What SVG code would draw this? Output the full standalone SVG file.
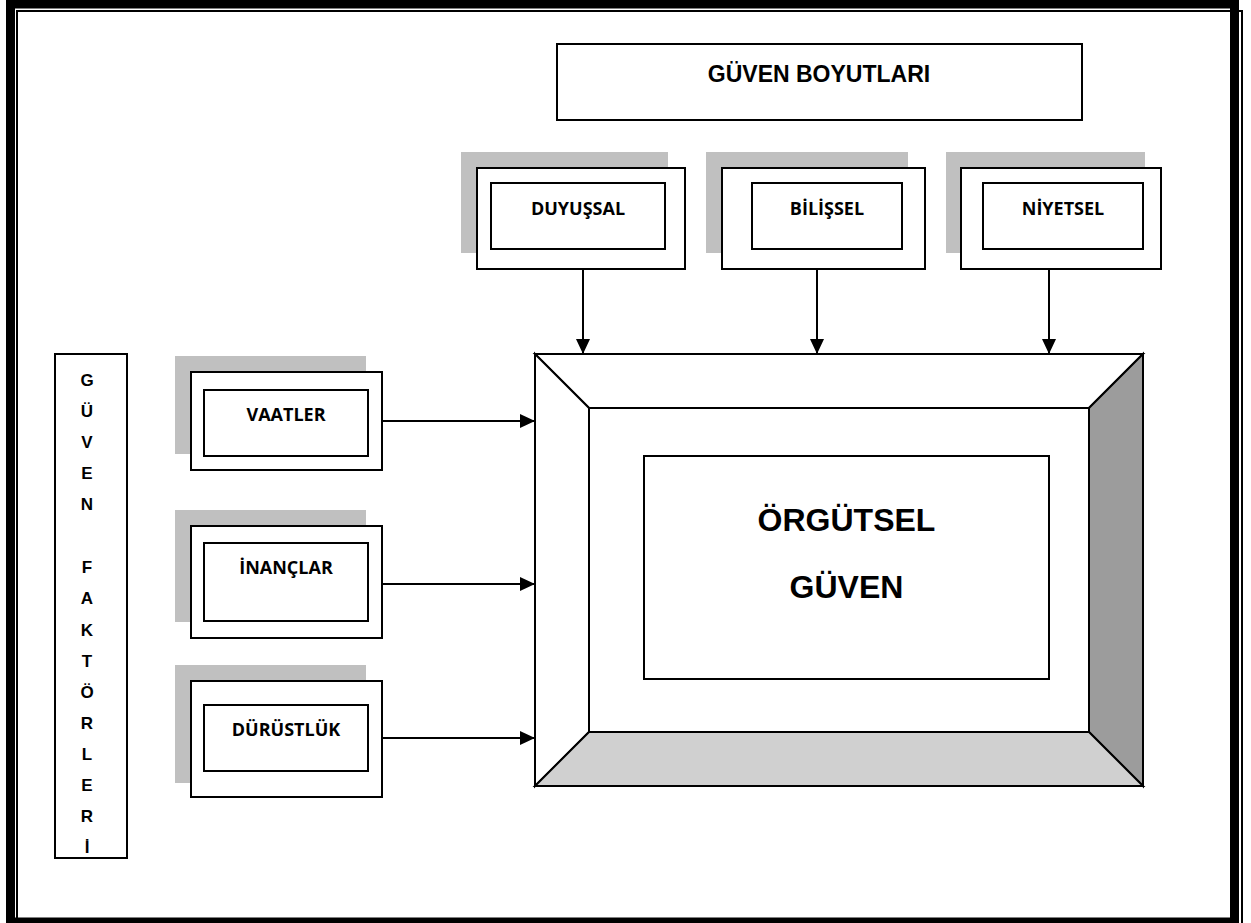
<svg xmlns="http://www.w3.org/2000/svg" width="1251" height="923" viewBox="0 0 1251 923">
<defs>
<style>
.box{fill:#fff;stroke:#000;stroke-width:2}
.shadow{fill:#c0c0c0;stroke:none}
.lbl{font-family:"Open Sans","Liberation Sans",sans-serif;font-weight:700;font-size:18px;fill:#000;text-anchor:middle}
.big{font-family:"Liberation Sans",Arial,sans-serif;font-weight:700;fill:#000;text-anchor:middle}
.conn{stroke:#000;stroke-width:2;fill:none;marker-end:url(#ah)}
.face{stroke:#000;stroke-width:2;stroke-linejoin:miter}
</style>
<marker id="ah" viewBox="0 0 15 14" refX="15" refY="7" markerWidth="15" markerHeight="14" markerUnits="userSpaceOnUse" orient="auto">
<path d="M0,0 L15,7 L0,14 Z" fill="#000"/>
</marker>
</defs>
<rect width="1251" height="923" fill="#fff"/>
<g id="page-border">
<rect x="10.5" y="4" width="1224" height="918" fill="none" stroke="#000" stroke-width="9"/>
<rect x="17" y="11" width="1225" height="920" fill="none" stroke="#000" stroke-width="2"/>
</g>
<g id="guven-boyutlari">
<rect class="box" x="557" y="44" width="525" height="76"/>
<text class="big" x="819" y="82" font-size="23">GÜVEN BOYUTLARI</text>
</g>
<g id="duyussal">
<rect class="shadow" x="461" y="152" width="207" height="101"/>
<rect class="box" x="477" y="168" width="208" height="101"/>
<rect class="box" x="491" y="183" width="174" height="66"/>
<text class="lbl" x="578" y="215">DUYUŞSAL</text>
</g>
<g id="bilissel">
<rect class="shadow" x="706" y="152" width="202" height="101"/>
<rect class="box" x="722" y="168" width="203" height="101"/>
<rect class="box" x="752" y="183" width="150" height="66"/>
<text class="lbl" x="827" y="215">BİLİŞSEL</text>
</g>
<g id="niyetsel">
<rect class="shadow" x="946" y="152" width="199" height="101"/>
<rect class="box" x="961" y="168" width="200" height="101"/>
<rect class="box" x="983" y="183" width="160" height="66"/>
<text class="lbl" x="1063" y="215">NİYETSEL</text>
</g>
<g id="guven-faktorleri">
<rect class="box" x="55" y="354" width="72" height="504"/>
<g class="big" font-size="17">
<text x="87" y="386">G</text>
<text x="87" y="417">Ü</text>
<text x="87" y="448">V</text>
<text x="87" y="479">E</text>
<text x="87" y="510">N</text>
<text x="87" y="573">F</text>
<text x="87" y="604">A</text>
<text x="87" y="636">K</text>
<text x="87" y="667">T</text>
<text x="87" y="698">Ö</text>
<text x="87" y="729">R</text>
<text x="87" y="760">L</text>
<text x="87" y="791">E</text>
<text x="87" y="822">R</text>
<text x="87" y="853">İ</text>
</g>
</g>
<g id="vaatler">
<rect class="shadow" x="175" y="356" width="191" height="98"/>
<rect class="box" x="191" y="372" width="191" height="98"/>
<rect class="box" x="204" y="390" width="164" height="66"/>
<text class="lbl" x="286" y="421">VAATLER</text>
</g>
<g id="inanclar">
<rect class="shadow" x="175" y="510" width="191" height="112"/>
<rect class="box" x="191" y="526" width="191" height="112"/>
<rect class="box" x="204" y="543" width="164" height="78"/>
<text class="lbl" x="286" y="574">İNANÇLAR</text>
</g>
<g id="durustluk">
<rect class="shadow" x="175" y="665" width="191" height="118"/>
<rect class="box" x="191" y="681" width="191" height="116"/>
<rect class="box" x="204" y="705" width="164" height="66"/>
<text class="lbl" x="286" y="736">DÜRÜSTLÜK</text>
</g>
<g id="orgutsel-guven">
<polygon class="face" points="535,354 1143,354 1089,408 589,408" fill="#fff"/>
<polygon class="face" points="535,354 589,408 589,732 535,786" fill="#fff"/>
<polygon class="face" points="1143,354 1143,786 1089,732 1089,408" fill="#9c9c9c"/>
<polygon class="face" points="535,786 589,732 1089,732 1143,786" fill="#d0d0d0"/>
<rect class="box" x="589" y="408" width="500" height="324"/>
<rect class="box" x="644" y="456" width="405" height="223"/>
<text class="big" x="846.5" y="531" font-size="32">ÖRGÜTSEL</text>
<text class="big" x="846.5" y="598" font-size="32">GÜVEN</text>
</g>
<g id="connectors">
<line class="conn" x1="583" y1="269" x2="583" y2="354"/>
<line class="conn" x1="817" y1="269" x2="817" y2="354"/>
<line class="conn" x1="1049" y1="269" x2="1049" y2="354"/>
<line class="conn" x1="382" y1="421" x2="535" y2="421"/>
<line class="conn" x1="382" y1="584" x2="535" y2="584"/>
<line class="conn" x1="382" y1="738" x2="535" y2="738"/>
</g>
</svg>
